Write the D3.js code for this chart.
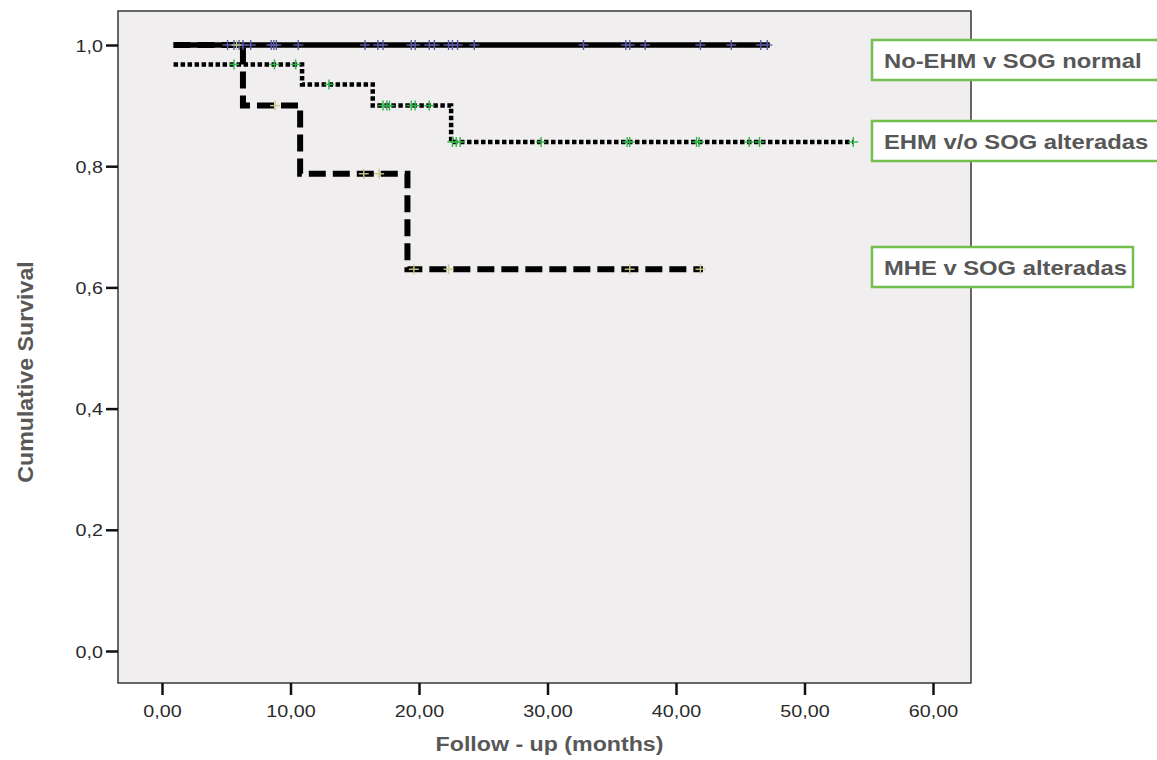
<!DOCTYPE html>
<html>
<head>
<meta charset="utf-8">
<script src="https://cdn.jsdelivr.net/npm/d3@7"></script>
<style>
  body { margin: 0; background: #fff; }
  svg { display: block; font-family: "Liberation Sans", Arial, sans-serif; }
</style>
</head>
<body>
<svg id="chart" width="1157" height="760"></svg>
<script>

// groups, in legend order
let groupNames = ['No-EHM v SOG normal', 'EHM v/o SOG alteradas', 'MHE v SOG alteradas'];

// step curves: time of each step (months) and survival after it
let stepTimes1 = [0.9];
let stepSurv1  = [1.0];
let endTime1   = 47.3;

let stepTimes2 = [0.9, 10.9, 16.4, 22.5];
let stepSurv2  = [0.968, 0.935, 0.9, 0.84];
let endTime2   = 53.8;

let stepTimes3 = [0.9, 6.3, 10.75, 19.1];
let stepSurv3  = [1.0, 0.9, 0.7875, 0.63];
let endTime3   = 42.1;

// censored cases (months)
let censor1 = [5.1, 5.6, 6.0, 6.3, 6.9, 8.5, 8.7, 8.9, 10.6, 15.8, 16.8, 17.2, 19.4, 19.7,
               20.8, 21.2, 22.3, 22.6, 23.0, 24.3, 32.8, 36.1, 36.4, 37.6, 41.9, 44.3, 46.6, 47.1];
let censor2 = [5.6, 8.75, 10.4, 13.0, 17.2, 17.5, 17.7, 19.4, 19.7, 20.8, 22.6, 22.9, 23.2,
               29.5, 36.2, 36.4, 41.6, 41.8, 45.7, 46.5, 53.8];
let censor3 = [5.8, 8.8, 15.7, 16.9, 19.6, 22.3, 36.4, 41.9];

let xTicks = [0, 10, 20, 30, 40, 50, 60];
let yTicks = [0, 0.2, 0.4, 0.6, 0.8, 1.0];

let xTitle = 'Follow - up (months)';
let yTitle = 'Cumulative Survival';

// ---- layout
let box = {left: 118, top: 11, right: 971, bottom: 683};
let stretch = 1.16;   // the picture's text is a bit wide

let svg = d3.select('#chart');

let x = d3.scaleLinear().domain([0, 60]).range([162, 933]);
let y = d3.scaleLinear().domain([0, 1]).range([651, 45]);

let comma = f => (s => d3.format(f)(s).replace('.', ','));

svg.append('rect')
    .attr('x', box.left).attr('y', box.top)
    .attr('width', box.right - box.left).attr('height', box.bottom - box.top)
    .attr('fill', '#f0eeee')
    .attr('stroke', '#2a2a2a').attr('stroke-width', 1.4);

// ---- axes
let yAxis = svg.append('g')
    .attr('transform', `translate(${box.left},0)`)
    .call(d3.axisLeft(y).tickValues(yTicks).tickFormat(comma('.1f')).tickSize(12).tickPadding(3));

let xAxis = svg.append('g')
    .attr('transform', `translate(0,${box.bottom})`)
    .call(d3.axisBottom(x).tickValues(xTicks).tickFormat(comma('.2f')).tickSize(12).tickPadding(10));

[xAxis, yAxis].forEach(a => {
    a.select('.domain').remove();
    a.selectAll('.tick line').attr('stroke', '#111').attr('stroke-width', 2.5);
    a.selectAll('.tick text')
        .attr('fill', '#2a2a2a')
        .style('font-size', '17px');
});

yAxis.selectAll('.tick text')
    .attr('x', -15 / stretch)
    .attr('dy', '0.36em')
    .attr('transform', `scale(${stretch},1)`);

xAxis.selectAll('.tick text')
    .attr('y', 22)
    .attr('dy', '0.71em')
    .attr('transform', `scale(${stretch},1)`);

// ---- curves
let kmPoints = (times, surv, end) => {
    let pts = [];
    times.forEach((t, i) => {
        if (i > 0) pts.push([t, surv[i - 1]]);
        pts.push([t, surv[i]]);
    });
    pts.push([end, surv[surv.length - 1]]);
    return pts;
};

let survAt = (times, surv, t) => {
    let i = d3.bisectRight(times, t) - 1;
    return surv[Math.max(i, 0)];
};

let line = d3.line().x(d => x(d[0])).y(d => y(d[1]));

let curves = [
    {times: stepTimes1, surv: stepSurv1, end: endTime1, censor: censor1,
     dash: null, width: 5.5, mark: '#5b5ba8'},
    {times: stepTimes2, surv: stepSurv2, end: endTime2, censor: censor2,
     dash: '4.5,2.5', width: 4.5, mark: '#2fb54a'},
    {times: stepTimes3, surv: stepSurv3, end: endTime3, censor: censor3,
     dash: '17,7', width: 6, mark: '#c8c88c'}
];

curves.forEach(c => {
    svg.append('path')
        .datum(kmPoints(c.times, c.surv, c.end))
        .attr('d', line)
        .attr('fill', 'none')
        .attr('stroke', '#000')
        .attr('stroke-width', c.width)
        .attr('stroke-dasharray', c.dash);
});

curves.forEach(c => {
    let marks = svg.append('g')
        .selectAll('g')
        .data(c.censor)
        .enter()
        .append('g')
        .attr('transform', t => `translate(${x(t)},${y(survAt(c.times, c.surv, t))})`)
        .attr('stroke', c.mark)
        .attr('stroke-width', 1.4);
    marks.append('line').attr('x1', -5).attr('x2', 5);
    marks.append('line').attr('y1', -5).attr('y2', 5);
});

// ---- titles
svg.append('text')
    .attr('transform', `translate(${(box.left + box.right) / 2 + 5},751) scale(${stretch},1)`)
    .attr('text-anchor', 'middle')
    .attr('fill', '#585858')
    .style('font-size', '20px')
    .style('font-weight', 'bold')
    .text(xTitle);

svg.append('text')
    .attr('transform', `translate(33,372) rotate(-90) scale(1.03,1)`)
    .attr('text-anchor', 'middle')
    .attr('fill', '#585858')
    .style('font-size', '22.5px')
    .style('font-weight', 'bold')
    .text(yTitle);

// ---- legend labels beside the curves
let labelBoxes = [
    {top: 40, width: 288},
    {top: 121, width: 288},
    {top: 247, width: 261}
];

labelBoxes.forEach((b, i) => {
    svg.append('rect')
        .attr('x', 872).attr('y', b.top)
        .attr('width', b.width).attr('height', 40)
        .attr('fill', '#fff')
        .attr('stroke', '#72bf50').attr('stroke-width', 2.5);
    svg.append('text')
        .attr('transform', `translate(884,${b.top + 28}) scale(${stretch},1)`)
        .attr('fill', '#575757')
        .style('font-size', '20.5px')
        .style('font-weight', 'bold')
        .text(groupNames[i]);
});

</script>
</body>
</html>
